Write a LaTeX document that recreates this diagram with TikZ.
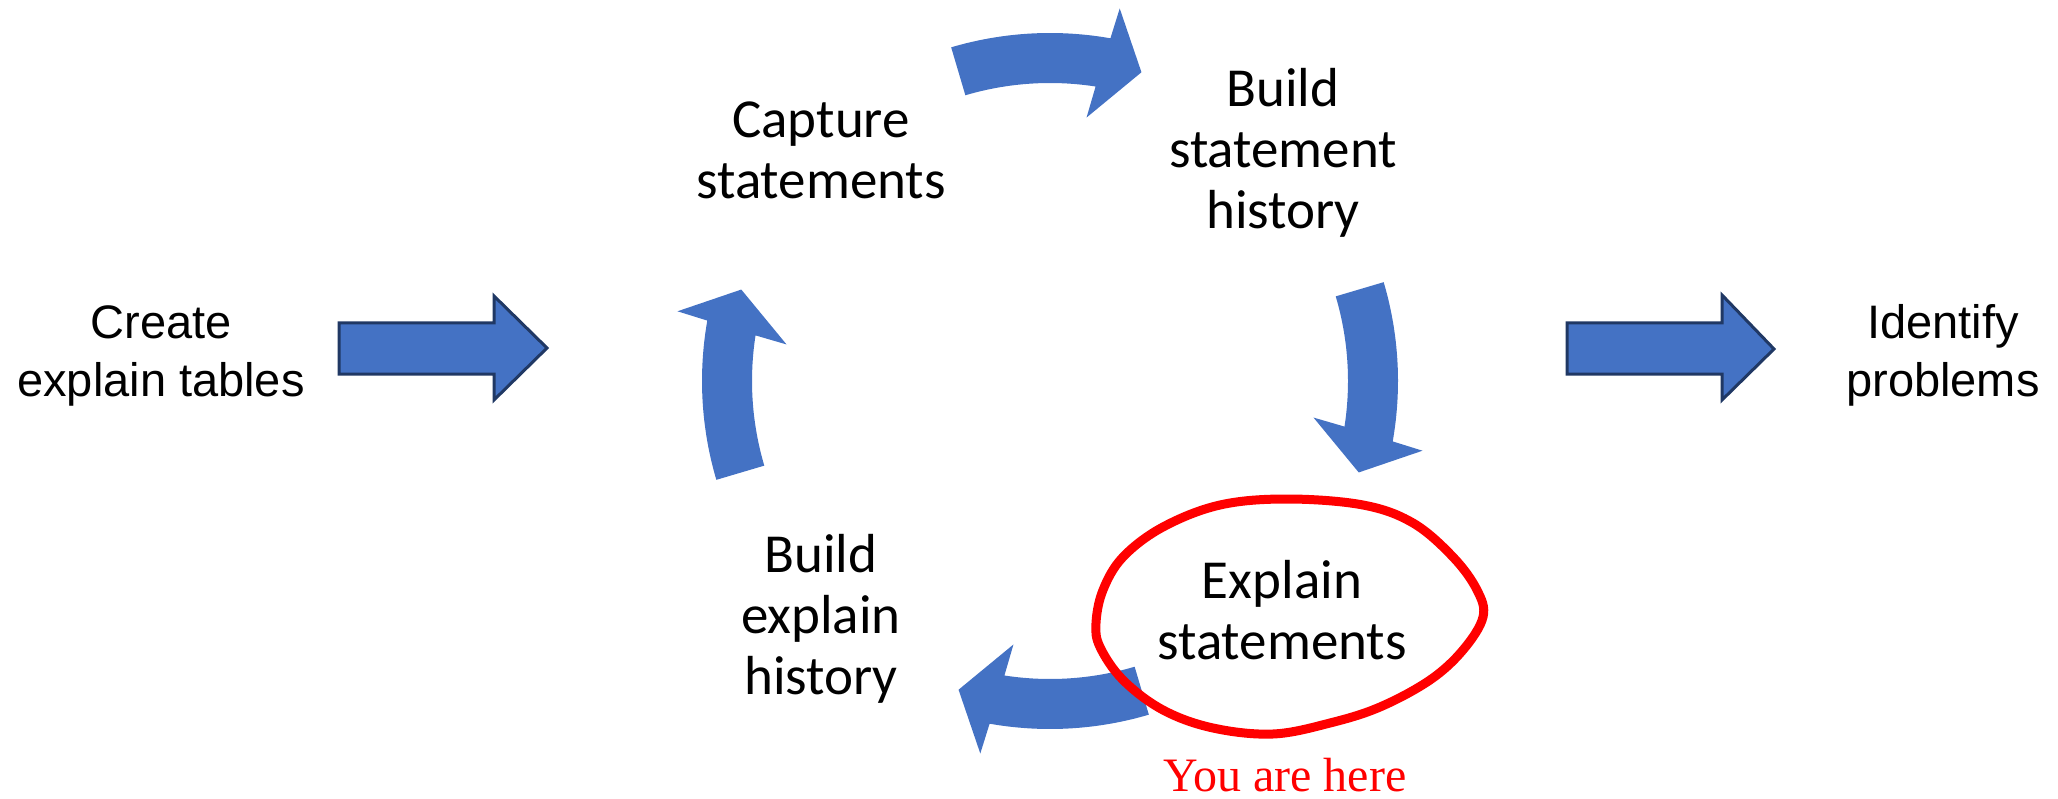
\documentclass[tikz,border=0pt]{standalone}
\usepackage{fontspec}
\setmainfont{Carlito}
\newfontfamily\arialfont{Liberation Sans}
\newfontfamily\timesfont{Liberation Serif}
\definecolor{cycblue}{HTML}{4472C4}
\definecolor{edgenavy}{HTML}{203864}
\definecolor{markred}{HTML}{FF0000}

% One curved arrow of the cycle; #1 is the angle (degrees) the arrow sits at.
\newcommand\cyclearrow[1]{%
  \fill[cycblue]
    plot[domain=#1+16.5:#1-10, samples=40] ({1050+348*cos(\x)},{381-348*sin(\x)})
    -- ({1050+379*cos(#1-10.6)},{381-379*sin(#1-10.6)})
    -- ({1050+322*cos(#1-16.5)},{381-322*sin(#1-16.5)})
    -- ({1050+266*cos(#1-7.9)},{381-266*sin(#1-7.9)})
    -- plot[domain=#1-8.8:#1+16.5, samples=40] ({1050+298*cos(\x)},{381-298*sin(\x)})
    -- cycle;}

% labels are placed by the baseline of their last line
\tikzset{
  steplabel/.style={font=\fontsize{55}{61}\selectfont, align=center, anchor=base, inner sep=0pt},
  sidelabel/.style={font=\arialfont\fontsize{47}{58}\selectfont, align=center, anchor=base, inner sep=0pt},
  blockarrow/.style={fill=cycblue, draw=edgenavy, line width=3pt, line join=miter},
}

\begin{document}
\begin{tikzpicture}[x=1pt,y=-1pt]
\path[use as bounding box] (0,0) rectangle (2058,799);

% straight block arrows into and out of the cycle
\filldraw[blockarrow] (339,323) -- (494,323) -- (494,296) -- (547,348) -- (494,400) -- (494,374) -- (339,374) -- cycle;
\filldraw[blockarrow] (1567,323) -- (1722,323) -- (1722,295) -- (1774,349) -- (1722,400) -- (1722,374) -- (1567,374) -- cycle;

% the four curved arrows of the cycle (clockwise)
\cyclearrow{90}
\cyclearrow{0}
\cyclearrow{-90}
\cyclearrow{180}

% labels
\node[sidelabel] (create) at (161,396) {Create\\explain tables};
\node[sidelabel] (identify) at (1943,396) {Identify\\problems};
\node[steplabel] (capture) at (821,199) {Capture\\statements};
\node[steplabel] (buildstmt) at (1283,229) {Build\\statement\\history};
\node[steplabel] (explain) at (1282,659) {Explain\\statements};
\node[steplabel] (buildexpl) at (821,694) {Build\\explain\\history};

% hand-drawn ring around the current step
\draw[markred, line width=9pt, line join=round] plot[smooth cycle, tension=0.6] coordinates {
  (1287,499) (1363,505) (1413,523) (1453,557) (1477,590) (1483,617)
  (1463,650) (1430,680) (1380,707) (1330,723) (1273,734)
  (1213,728) (1163,710) (1123,680) (1100,647) (1096,623)
  (1103,590) (1123,557) (1163,527) (1220,505)};

\node[font=\timesfont\fontsize{48}{54}\selectfont, text=markred, anchor=base, inner sep=0pt] (here) at (1285,791) {You are here};
\end{tikzpicture}
\end{document}
